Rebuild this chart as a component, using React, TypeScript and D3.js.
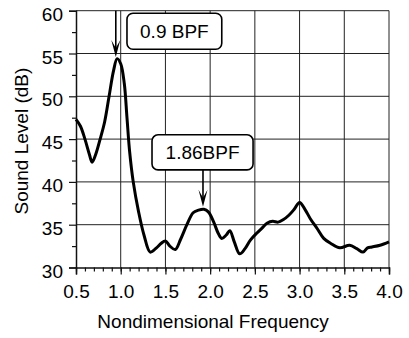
import React, { useEffect, useRef } from 'react';
import * as d3 from 'd3';

// nondimensional frequency (x) and sound level in dB (y)
const freq = [0.5, 0.55, 0.6, 0.65, 0.68, 0.72, 0.77, 0.82, 0.87, 0.92, 0.96, 1.0, 1.04, 1.07, 1.1, 1.14, 1.2, 1.26, 1.33, 1.4, 1.45, 1.5, 1.55, 1.61, 1.67, 1.74, 1.81, 1.87, 1.93, 1.98, 2.04, 2.09, 2.13, 2.18, 2.22, 2.27, 2.33, 2.39, 2.45, 2.52, 2.58, 2.64, 2.7, 2.76, 2.82, 2.88, 2.94, 3.0, 3.06, 3.12, 3.2, 3.27, 3.35, 3.45, 3.56, 3.64, 3.71, 3.76, 3.81, 3.9, 4.0];
const level = [47.3, 46.5, 45.0, 43.2, 42.3, 43.2, 45.0, 47.0, 50.0, 53.0, 54.4, 53.8, 51.5, 47.5, 43.5, 40.0, 36.5, 33.8, 31.8, 32.3, 32.8, 33.1, 32.5, 32.1, 33.3, 35.0, 36.4, 36.7, 36.8, 36.5, 35.3, 34.0, 33.4, 33.8, 34.3, 33.0, 31.6, 32.2, 33.2, 34.0, 34.6, 35.2, 35.4, 35.3, 35.6, 36.1, 36.8, 37.6, 36.8, 35.7, 34.5, 33.4, 32.8, 32.3, 32.6, 32.2, 31.8, 32.3, 32.4, 32.6, 33.0];

const xTicks = [0.5, 1.0, 1.5, 2.0, 2.5, 3.0, 3.5, 4.0];
const yTicks = [30, 35, 40, 45, 50, 55, 60];

// annotation labels and where their arrows point (data units)
const labels = ['0.9 BPF', '1.86BPF'];
const labelBoxX = [[1.07, 2.13], [1.35, 2.48]];
const labelBoxY = [[59.7, 55.5], [45.5, 41.4]];
const arrowX = [0.945, 1.92];
const arrowFrom = [60, 41.4];
const arrowTo = [54.6, 37.1];

export default function App() {
  const ref = useRef<SVGSVGElement>(null);

  useEffect(() => {
    const width = 409;
    const height = 338;
    const margin = { top: 10.7, right: 20, bottom: 70.5, left: 76 };
    const font = '"Liberation Sans", Arial, sans-serif';

    const svg = d3.select(ref.current);
    svg.selectAll('*').remove();

    const x = d3.scaleLinear().domain([0.5, 4.0]).range([margin.left, width - margin.right]);
    const y = d3.scaleLinear().domain([30, 60]).range([height - margin.bottom, margin.top]);

    // grid (including top and right frame)
    const grid = svg.append('g').attr('stroke', '#222').attr('stroke-width', 1);
    grid.selectAll('line.v')
      .data(xTicks.slice(1))
      .join('line')
      .attr('x1', d => x(d)).attr('x2', d => x(d))
      .attr('y1', y(30)).attr('y2', y(60));
    grid.selectAll('line.h')
      .data(yTicks.slice(1))
      .join('line')
      .attr('x1', x(0.5)).attr('x2', x(4.0))
      .attr('y1', d => y(d)).attr('y2', d => y(d));

    // bottom axis
    const xAxis = svg.append('g')
      .attr('transform', `translate(0,${y(30)})`)
      .call(d3.axisBottom(x).tickValues(xTicks).tickSize(7).tickPadding(10).tickFormat(d3.format('.1f')));
    xAxis.append('g')
      .call(d3.axisBottom(x).tickValues(d3.range(5, 41).map(v => v / 10)).tickSize(4).tickFormat(() => ''))
      .select('.domain').remove();

    // left axis
    const yAxis = svg.append('g')
      .attr('transform', `translate(${x(0.5)},0)`)
      .call(d3.axisLeft(y).tickValues(yTicks).tickSize(7).tickPadding(6));
    yAxis.selectAll('.tick text').attr('dy', '0.5em');
    yAxis.append('g')
      .call(d3.axisLeft(y).tickValues(d3.range(32.5, 60, 5)).tickSize(4).tickFormat(() => ''))
      .select('.domain').remove();

    svg.selectAll('.domain').attr('stroke', '#111').attr('stroke-width', 1.5);
    svg.selectAll('.tick line').attr('stroke', '#111').attr('stroke-width', 1.2);
    svg.selectAll('.tick text')
      .attr('fill', '#000')
      .style('font-family', font)
      .style('font-size', '19px');

    // trace
    const points = freq.map((f, i) => [f, level[i]] as [number, number]);
    svg.append('path')
      .datum(points)
      .attr('fill', 'none')
      .attr('stroke', '#000')
      .attr('stroke-width', 3)
      .attr('stroke-linejoin', 'round')
      .attr('d', d3.line<[number, number]>()
        .x(d => x(d[0]))
        .y(d => y(d[1]))
        .curve(d3.curveCatmullRom.alpha(0.5)));

    // annotations
    labels.forEach((txt, i) => {
      const x0 = x(labelBoxX[i][0]);
      const x1 = x(labelBoxX[i][1]);
      const y0 = y(labelBoxY[i][0]);
      const y1 = y(labelBoxY[i][1]);
      svg.append('rect')
        .attr('x', x0).attr('y', y0)
        .attr('width', x1 - x0).attr('height', y1 - y0)
        .attr('rx', 6)
        .attr('fill', '#fff')
        .attr('stroke', '#000')
        .attr('stroke-width', 1.6);
      svg.append('text')
        .attr('x', (x0 + x1) / 2)
        .attr('y', (y0 + y1) / 2)
        .attr('dy', '0.35em')
        .attr('text-anchor', 'middle')
        .style('font-family', font)
        .style('font-size', '19px')
        .text(txt);

      const ax = x(arrowX[i]);
      const tip = y(arrowTo[i]);
      svg.append('line')
        .attr('x1', ax).attr('x2', ax)
        .attr('y1', y(arrowFrom[i])).attr('y2', tip - 6)
        .attr('stroke', '#000').attr('stroke-width', 1.6);
      svg.append('path')
        .attr('d', `M${ax - 4.5},${tip - 17} L${ax},${tip} L${ax + 4.5},${tip - 17} L${ax},${tip - 9} Z`)
        .attr('fill', '#000');
    });

    // axis titles
    svg.append('text')
      .attr('x', 213)
      .attr('y', height - 10)
      .attr('text-anchor', 'middle')
      .style('font-family', font)
      .style('font-size', '19px')
      .text('Nondimensional Frequency');
    svg.append('text')
      .attr('transform', `translate(28,${(y(30) + y(60)) / 2 + 2}) rotate(-90)`)
      .attr('text-anchor', 'middle')
      .style('font-family', font)
      .style('font-size', '19px')
      .text('Sound Level (dB)');
  }, []);

  return (
    <svg
      ref={ref}
      width={409}
      height={338}
      style={{ position: 'absolute', left: 0, top: 0, background: '#fff' }}
    />
  );
}
